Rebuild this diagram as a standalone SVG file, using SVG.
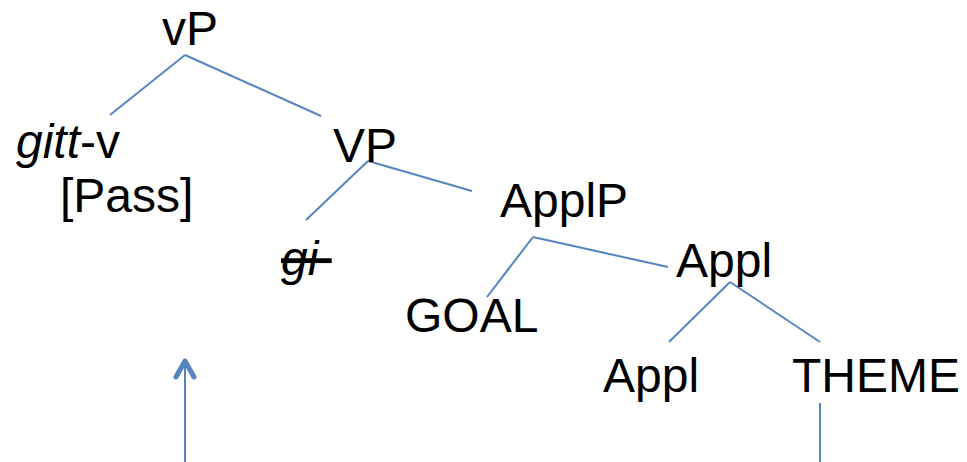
<svg xmlns="http://www.w3.org/2000/svg" width="967" height="462" viewBox="0 0 967 462">
<style>
text{font-family:"Liberation Sans",Arial,sans-serif;font-size:48px;fill:#000}
.e{stroke:#5585C1;stroke-width:2;fill:none}
.h{stroke:#5585C1;stroke-width:5;fill:none;stroke-linecap:round;stroke-linejoin:round}
.i{font-style:italic}
</style>
<rect width="967" height="462" fill="#fff"/>
<g id="connectors">
<line class="e" x1="185" y1="55" x2="110" y2="115"/>
<line class="e" x1="185" y1="55" x2="321" y2="116"/>
<line class="e" x1="368" y1="161" x2="306" y2="220"/>
<line class="e" x1="368" y1="161" x2="472" y2="191"/>
<line class="e" x1="533" y1="237" x2="487" y2="297"/>
<line class="e" x1="533" y1="237" x2="668" y2="267"/>
<line class="e" x1="730" y1="282" x2="669" y2="342"/>
<line class="e" x1="730" y1="282" x2="820" y2="342"/>
<line class="e" x1="820" y1="403" x2="820" y2="462"/>
<line class="e" x1="185" y1="362" x2="185" y2="462"/>
<polyline class="h" points="176,377 185,361 194,377"/>
</g>
<g id="vP"><text x="162" y="45">vP</text></g>
<g id="gittv"><text x="16" y="158"><tspan class="i">gitt</tspan>-v</text></g>
<g id="pass"><text x="60" y="212">[Pass]</text></g>
<g id="VP"><text x="333" y="162">VP</text></g>
<g id="gi"><text x="281" y="275" class="i" xml:space="preserve" style="text-decoration:line-through">gi </text></g>
<g id="ApplP"><text x="500" y="217">ApplP</text></g>
<g id="GOAL"><text x="405" y="332">GOAL</text></g>
<g id="Appl1"><text x="676" y="277">Appl</text></g>
<g id="Appl2"><text x="603" y="392">Appl</text></g>
<g id="THEME"><text x="792" y="392">THEME</text></g>
</svg>
